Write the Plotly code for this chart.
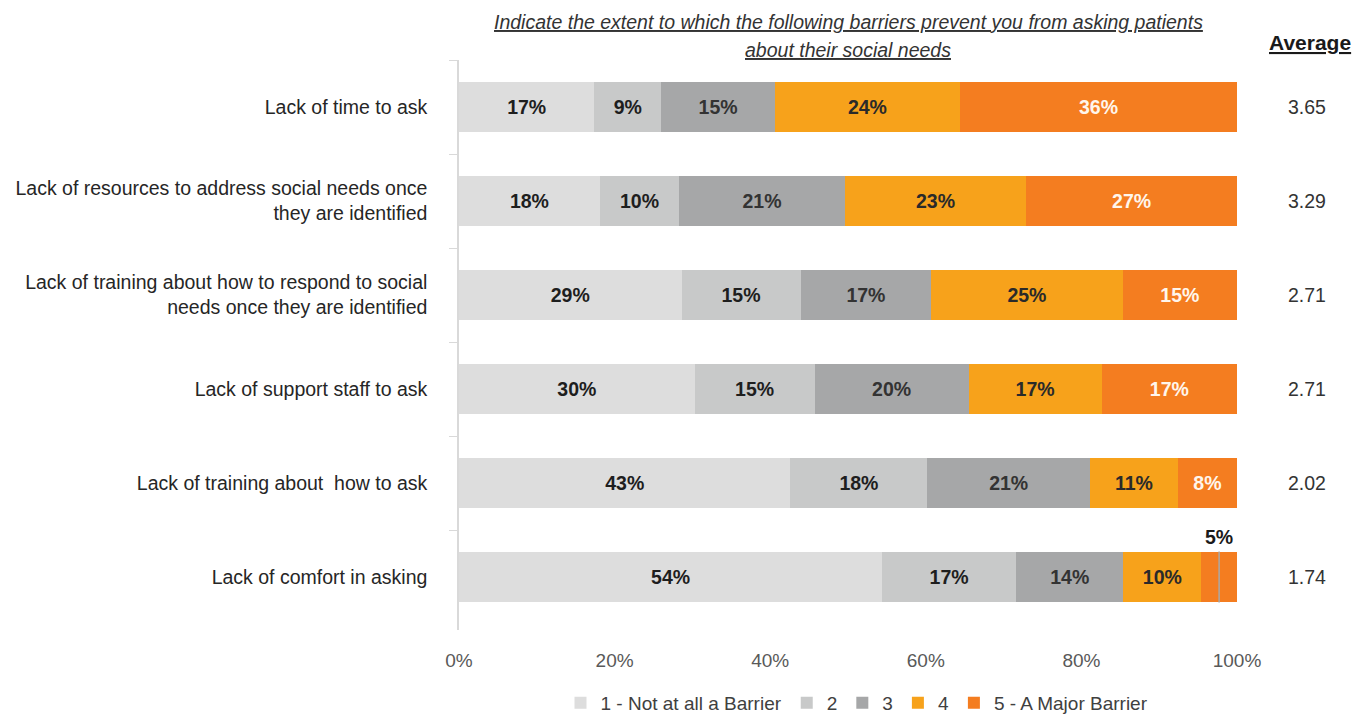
import plotly.graph_objects as go

categories = [
    "Lack of time to ask",
    "Lack of resources to address social needs once<br>they are identified",
    "Lack of training about how to respond to social<br>needs once they are identified",
    "Lack of support staff to ask",
    "Lack of training about  how to ask",
    "Lack of comfort in asking",
]
series_names = ["1 - Not at all a Barrier", "2", "3", "4", "5 - A Major Barrier"]
not_at_all = [17.4, 18.1, 28.6, 30.3, 42.6, 54.4]
level2 = [8.6, 10.2, 15.3, 15.4, 17.6, 17.2]
level3 = [14.6, 21.3, 16.8, 19.8, 20.9, 13.8]
level4 = [23.8, 23.3, 24.6, 17.1, 11.3, 10.0]
major = [35.6, 27.1, 14.7, 17.4, 7.6, 4.6]
averages = ["3.65", "3.29", "2.71", "2.71", "2.02", "1.74"]
title_lines = [
    "Indicate the extent to which the following barriers prevent you from asking patients",
    "about their social needs",
]

series = [not_at_all, level2, level3, level4, major]
colors = ["#DDDDDD", "#C8C9C9", "#A6A7A8", "#F7A21B", "#F47D20"]
text_colors = ["#1e1e1e", "#1e1e1e", "#333333", "#2a2a2a", "#FFF6EC"]

FONT = "Liberation Sans, Arial, sans-serif"

fig = go.Figure()
for name, vals, col, tcol in zip(series_names, series, colors, text_colors):
    texts = [f"{v:.0f}%" if v >= 6 else "" for v in vals]
    fig.add_trace(go.Bar(
        y=categories, x=vals, name=name, orientation="h",
        marker=dict(color=col, line=dict(width=0)),
        text=texts, textposition="inside", insidetextanchor="middle",
        textangle=0, constraintext="none",
        textfont=dict(family=FONT, size=19.5, color=tcol, weight="bold"),
        hoverinfo="skip",
    ))

# small segment label for last row, shown above the bar with a leader line
last = len(categories) - 1
small_x = sum(s[last] for s in series[:4]) + major[last] / 2
fig.add_annotation(x=small_x, y=categories[last], text=f"<b>{major[last]:.0f}%</b>",
                   showarrow=False, yshift=40, xanchor="center",
                   font=dict(family=FONT, size=19.5, color="#1a1a1a"))
fig.add_shape(type="line", x0=small_x, x1=small_x, y0=last - 0.27, y1=last + 0.27,
              xref="x", yref="y", line=dict(color="#A8A8A8", width=1.5))

for cat, avg in zip(categories, averages):
    fig.add_annotation(x=1.09, xref="paper", y=cat, yref="y", text=avg,
                       xanchor="center", showarrow=False,
                       font=dict(family=FONT, size=19.5, color="#333333"))
fig.add_annotation(x=1.094, xref="paper", y=1.0, yref="paper", yanchor="middle",
                   yshift=18, xanchor="center",
                   text="<b><u>Average</u></b>", showarrow=False,
                   font=dict(family=FONT, size=21, color="#1a1a1a"))

# two-line underlined italic title
for line, shift in zip(title_lines, [38, 10]):
    fig.add_annotation(x=0.5, xref="paper", y=1.0, yref="paper", yanchor="middle",
                       yshift=shift, xanchor="center", showarrow=False,
                       text=f"<i><u>{line}</u></i>",
                       font=dict(family=FONT, size=19.5, color="#333333"))

fig.update_layout(
    width=1368, height=715,
    barmode="stack", bargap=0.47,
    paper_bgcolor="white", plot_bgcolor="white",
    margin=dict(l=459, r=131, t=60, b=85, autoexpand=False),
    xaxis=dict(range=[0, 100], dtick=20, ticksuffix="%", showgrid=False, zeroline=False,
               showline=False, ticklabelstandoff=17,
               tickfont=dict(family=FONT, size=19, color="#595959"),
               fixedrange=True),
    yaxis=dict(autorange="reversed", showline=True, linecolor="#D9D9D9", linewidth=1.5,
               ticks="outside", tickson="boundaries", ticklen=8, tickcolor="#D9D9D9",
               ticklabelstandoff=26,
               tickfont=dict(family=FONT, size=19.5, color="#262626"), showgrid=False),
    legend=dict(orientation="h", x=(857 - 459) / 778, xanchor="center", y=-73 / 570,
                yanchor="middle", font=dict(family=FONT, size=19, color="#404040"),
                traceorder="normal", itemwidth=30),
    showlegend=True,
)

fig.write_html("out.html", config={"displayModeBar": False},
               post_script="document.body.style.margin='0';document.body.style.overflow='hidden';")
